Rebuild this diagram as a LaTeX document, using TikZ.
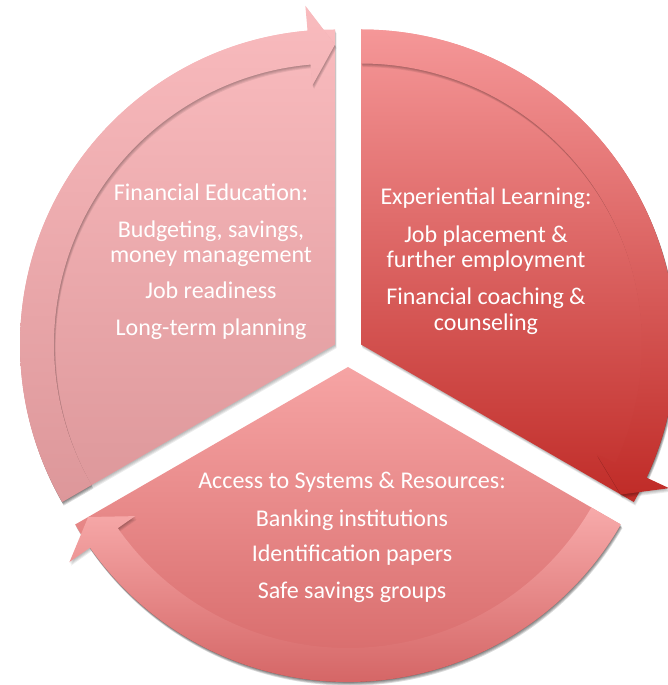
\documentclass[tikz,border=0pt]{standalone}
\usepackage{fontspec}
\setmainfont{Carlito}
\definecolor{Ltop}{RGB}{249,187,190}
\definecolor{Lbot}{RGB}{221,151,154}
\definecolor{Rtop}{RGB}{245,151,152}
\definecolor{Rmid}{RGB}{231,115,115}
\definecolor{Rbot}{RGB}{192,44,40}
\definecolor{Btop}{RGB}{246,164,164}
\definecolor{Bmid}{RGB}{232,128,128}
\definecolor{Bbot}{RGB}{210,96,96}
\definecolor{BAtop}{RGB}{247,170,170}
\definecolor{BAbot}{RGB}{213,102,102}
\newcommand\wedgepath[2]{(0,0) -- (#1:315) arc[start angle=#1, end angle=#2, radius=315] -- cycle}
% #1 tail angle, #2 tip angle
\newcommand\arrowpath[2]{(#1:315) arc[start angle=#1, end angle={#2+5}, radius=315] -- ({#2+5}:340) -- (#2:300) -- ({#2+5}:260) -- ({#2+5}:281) arc[start angle={#2+5}, end angle=#1, radius=281] -- cycle}
\tikzset{
  txt/.style={font=\fontsize{24}{25}\selectfont, text=white, inner sep=0pt, anchor=base},
  shadowlayer/.style={fill=black, opacity=0.075}
}
\begin{document}
\begin{tikzpicture}[x=1pt,y=1pt]
\useasboundingbox (0,0) rectangle (668,685);
\coordinate (AL) at (335,340.5);
\coordinate (AR) at (361,340.5);
\coordinate (AB) at (348,318);

% ---- left segment
\begin{scope}[shift={(AL)}]
  \foreach \s in {1,2,3,4} {\fill[shadowlayer, shift={(0.4*\s,-0.9*\s)}] \wedgepath{90}{210};}
  \shade[top color=Ltop, bottom color=Lbot] \wedgepath{90}{210};
  \foreach \s in {1,2,3,4} {\fill[shadowlayer, shift={(0.4*\s,-0.9*\s)}] \arrowpath{210}{90};}
  \shade[top color=Ltop, bottom color=Lbot] \arrowpath{210}{90};
\end{scope}

% ---- right segment
\begin{scope}[shift={(AR)}]
  \foreach \s in {1,2,3,4} {\fill[shadowlayer, shift={(0.4*\s,-0.9*\s)}] \wedgepath{-30}{90};}
  \shade[top color=Rtop, middle color=Rmid, bottom color=Rbot] \wedgepath{-30}{90};
  \foreach \s in {1,2,3,4} {\fill[shadowlayer, shift={(0.4*\s,-0.9*\s)}] \arrowpath{90}{-30};}
  \shade[top color=Rtop, middle color=Rmid, bottom color=Rbot] \arrowpath{90}{-30};
\end{scope}

% ---- bottom segment
\begin{scope}[shift={(AB)}]
  \foreach \s in {1,2,3,4} {\fill[shadowlayer, shift={(0.4*\s,-0.9*\s)}] \wedgepath{210}{330};}
  \shade[top color=Btop, middle color=Bmid, bottom color=Bbot] \wedgepath{210}{330};
  \foreach \s in {1,2,3,4} {\fill[shadowlayer, shift={(0.4*\s,-0.9*\s)}] \arrowpath{330}{210};}
  \shade[top color=BAtop, bottom color=BAbot] \arrowpath{330}{210};
\end{scope}

% ---- texts
\node[txt] (fe1) at (211,484) {Financial Education:};
\node[txt] (fe2) at (211,447) {Budgeting, savings,};
\node[txt] (fe3) at (211,422) {money management};
\node[txt] (fe4) at (211,386) {Job readiness};
\node[txt] (fe5) at (211,349) {Long-term planning};

\node[txt] (el1) at (486,480) {Experiential Learning:};
\node[txt] (el2) at (486,442) {Job placement \&};
\node[txt] (el3) at (486,417) {further employment};
\node[txt] (el4) at (486,380) {Financial coaching \&};
\node[txt] (el5) at (486,354) {counseling};

\node[txt] (as1) at (352,196) {Access to Systems \& Resources:};
\node[txt] (as2) at (352,158) {Banking institutions};
\node[txt] (as3) at (352,123) {Identification papers};
\node[txt] (as4) at (352,86) {Safe savings groups};
\end{tikzpicture}
\end{document}
